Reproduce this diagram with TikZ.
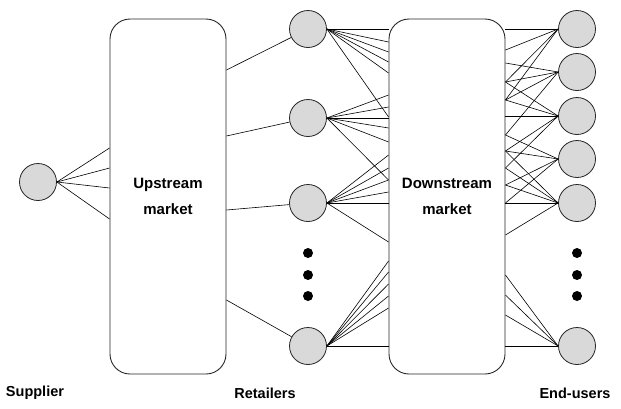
\documentclass[tikz,border=0pt]{standalone}
\usepackage{fontspec}
\setmainfont{Liberation Sans}
\begin{document}
\begin{tikzpicture}[x=1pt,y=-1pt,
  agent/.style={circle,draw=black!85,fill=black!15,line width=0.8pt,minimum size=37pt,inner sep=0pt},
  dotn/.style={circle,fill=black,minimum size=10pt,inner sep=0pt},
  market/.style={draw=black!85,line width=0.9pt,rounded corners=20pt,minimum width=116pt,minimum height=355pt,inner sep=0pt,align=center,font=\fontsize{15}{26}\selectfont\bfseries},
  lab/.style={font=\fontsize{14.5}{17}\selectfont\bfseries},
  link/.style={line width=0.6pt,black}]
\useasboundingbox (0,0) rectangle (621,408);
% markets
\node[market] (up) at (168,196.5) {Upstream\\market};
\node[market] (down) at (447,196.5) {Downstream\\market};
% supplier
\node[agent] (s) at (38,182) {};
% retailers
\node[agent] (r1) at (308,29) {};
\node[agent] (r2) at (308,118) {};
\node[agent] (r3) at (308,203) {};
\node[agent] (r4) at (308,346) {};
\node[dotn] (rd1) at (308,253) {};
\node[dotn] (rd2) at (308,275) {};
\node[dotn] (rd3) at (308,296) {};
% end users
\node[agent] (e1) at (577,29) {};
\node[agent] (e2) at (577,72) {};
\node[agent] (e3) at (577,116) {};
\node[agent] (e4) at (577,159) {};
\node[agent] (e5) at (577,203) {};
\node[agent] (e6) at (577,346) {};
\node[dotn] (ed1) at (577,253) {};
\node[dotn] (ed2) at (577,275) {};
\node[dotn] (ed3) at (577,296) {};
% labels
\node[lab] (ls) at (35,393) {Supplier};
\node[lab] (lr) at (265,393) {Retailers};
\node[lab] (le) at (575,393) {End-users};
% supplier to upstream
\foreach \y in {148,168,188,219}{
  \coordinate (c) at (up.west |- 0,\y);
  \draw[link] (s.east) -- (c);
}
% upstream to retailers
\foreach \r/\y in {r1/70,r2/136,r3/210,r4/300}{
  \coordinate (c) at (up.east |- 0,\y);
  \draw[link] (c) -- (\r);
}
% retailers to downstream
\foreach \r/\ys in {r1/{29,42,52,62,73,117},r2/{95,107,118,128,142,180},r3/{155,168,180,192,203,242},r4/{261,272,284,296,308,346}}{
  \foreach \y in \ys {
    \coordinate (c) at (down.west |- 0,\y);
    \draw[link] (\r.east) -- (c);
  }
}
% downstream to end users
\foreach \e/\ys in {e1/{29,50,82,100},e2/{63,82,100,135},e3/{82,100,116,151,168},e4/{135,151,185,203},e5/{151,168,185,203,235},e6/{275,295,315,346}}{
  \foreach \y in \ys {
    \coordinate (c) at (down.east |- 0,\y);
    \draw[link] (\e.west) -- (c);
  }
}
\end{tikzpicture}
\end{document}
